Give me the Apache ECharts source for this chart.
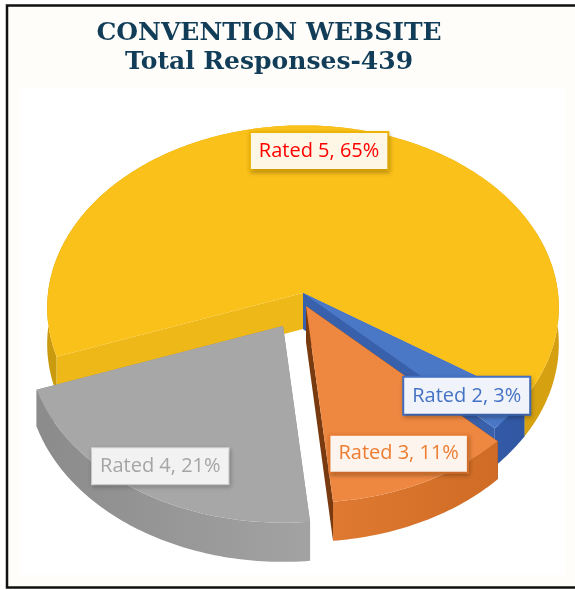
<!DOCTYPE html>
<html>
<head>
<meta charset="utf-8">
<script src="https://cdn.jsdelivr.net/npm/echarts@6/dist/echarts.min.js"></script>
<style>
html, body {margin:0; padding:0; background:#fff;}
#chart {width:575px; height:590px;}
</style>
</head>
<body>
<div id="chart"></div>
<script>
// values
const categories = ['Rated 5', 'Rated 2', 'Rated 3', 'Rated 4'];
const percents = [65, 3, 11, 21];
const titleLines = ['CONVENTION WEBSITE', 'Total Responses-439'];

// look of the tilted pie
const CX = 303, CY = 293, RX = 255, RY = 181, PERSP = 0.08, THICK = 36;
const START = 250;            // where the first slice starts, degrees clockwise from 12 o'clock
const shift = [[0, 0], [0, 0], [3, 13], [-20, 33]];   // exploded slices, px
const labelAt = [[4.6, 0.84], [131.5, 0.82], [157.1, 0.90], [210.3, 1.03]];
const topColors = ['#FAC11A', '#4A78C6', '#EE8840', '#A7A7A7'];
const wallColors = [['#C99A0E', '#F0B816', '#D4A010'], ['#2F55A0', '#3E68B6', '#2F55A0'],
                    ['#C9661F', '#E27C34', '#C9661F'], ['#8C8C8C', '#A2A2A2', '#9A9A9A']];
const faceColors = ['#EDB818', '#3960AA', '#7A3A10', '#8E8E8E'];
const labelColors = ['#FF0000', '#4472C4', '#ED7D31', '#A5A5A5'];
const labelBg = ['#FFF7E6', '#F0F3FA', '#FDF4EE', '#F2F2F2'];
const labelBorder = ['#F2B705', '#4472C4', '#ED7D31', '#DCDCDC'];

function proj(deg, r, down, off) {
    let a = deg * Math.PI / 180;
    let u = r * Math.sin(a), v = -r * Math.cos(a);
    let s = 1 / (1 - PERSP * v);
    return [CX + off[0] + RX * u * s, CY + off[1] + (RY * v + THICK * down) * s];
}

function renderSlice(params, api) {
    let i = params.dataIndex;
    let a0 = START;
    for (let k = 0; k < i; k++) a0 += percents[k] * 3.6;
    let a1 = a0 + api.value(0) * 3.6;
    let off = shift[i];
    let arc = down => {
        let pts = [], n = Math.max(2, Math.ceil(a1 - a0));
        for (let j = 0; j <= n; j++) pts.push(proj(a0 + (a1 - a0) * j / n, 1, down, off));
        return pts;
    };
    let topArc = arc(0), botArc = arc(1);
    let c0 = proj(0, 0, 0, off), c1 = proj(0, 0, 1, off);
    let face = deg => ({
        type: 'polygon',
        shape: {points: [c0, proj(deg, 1, 0, off), proj(deg, 1, 1, off), c1]},
        style: {fill: faceColors[i]}
    });
    let startVis = -Math.sin(a0 * Math.PI / 180) > 0;
    let endVis = Math.sin(a1 * Math.PI / 180) > 0;
    let back = [], front = [];
    (startVis ? front : back).push(face(a0));
    (endVis ? front : back).push(face(a1));
    let wc = wallColors[i];
    let wall = {
        type: 'polygon',
        shape: {points: topArc.concat(botArc.slice().reverse())},
        style: {fill: new echarts.graphic.LinearGradient(CX - RX, 0, CX + RX, 0,
            [{offset: 0, color: wc[0]}, {offset: 0.5, color: wc[1]}, {offset: 1, color: wc[2]}], true)}
    };
    let top = {
        type: 'polygon',
        shape: {points: [c0].concat(topArc)},
        style: {fill: topColors[i]}
    };
    let lp = proj(labelAt[i][0], labelAt[i][1], 0, [0, 0]);
    let label = {
        type: 'text',
        z2: 100,
        x: lp[0], y: lp[1],
        style: {
            text: categories[i] + ', ' + api.value(0) + '%',
            fill: labelColors[i],
            font: '20px "Open Sans"',
            align: 'center', verticalAlign: 'middle',
            lineHeight: 24,
            backgroundColor: labelBg[i],
            borderColor: labelBorder[i],
            borderWidth: i === 3 ? 1 : 2,
            padding: [6, 8],
            shadowBlur: 4,
            shadowOffsetX: 1,
            shadowOffsetY: 2,
            shadowColor: 'rgba(0,0,0,0.2)'
        }
    };
    return {type: 'group', children: back.concat([wall], front, [top, label])};
}

let chart = echarts.init(document.getElementById('chart'));
chart.setOption({
    animation: false,
    graphic: [
        {type: 'rect', z: -10, shape: {x: 7, y: 5.5, width: 600, height: 582},
         style: {fill: '#FEFDFA', stroke: '#111', lineWidth: 2.5}},
        {type: 'rect', z: -9, shape: {x: 20, y: 88, width: 545, height: 487},
         style: {fill: '#fff'}},
        {type: 'text', z: 10, x: 269, y: 33,
         style: {text: titleLines[0], font: 'bold 25px "DejaVu Serif"', fill: '#123D58', align: 'center', verticalAlign: 'middle'}},
        {type: 'text', z: 10, x: 269, y: 62,
         style: {text: titleLines[1], font: 'bold 25px "DejaVu Serif"', fill: '#123D58', align: 'center', verticalAlign: 'middle'}}
    ],
    series: [{
        type: 'custom',
        coordinateSystem: 'none',
        silent: true,
        renderItem: renderSlice,
        data: percents.map((p, i) => ({name: categories[i], value: [p]}))
    }]
});
</script>
</body>
</html>
